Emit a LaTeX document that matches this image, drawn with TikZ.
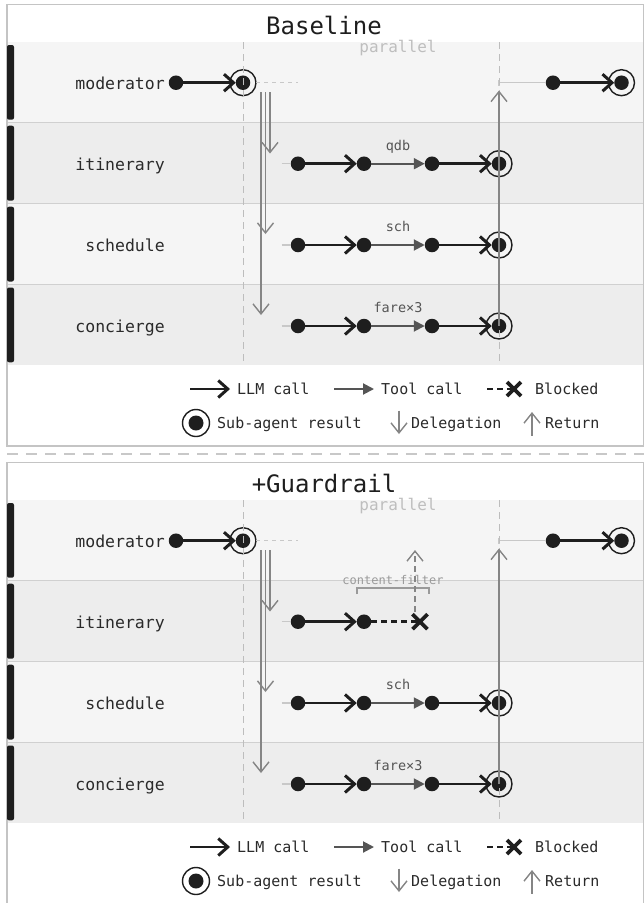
\documentclass[tikz,border=0pt]{standalone}
\usepackage{fontspec}
\setmainfont{DejaVu Sans Mono}
\usetikzlibrary{arrows.meta}
\definecolor{rowA}{HTML}{F5F5F5}
\definecolor{rowB}{HTML}{EDEDED}
\definecolor{sepc}{HTML}{D0D0D0}
\definecolor{framec}{HTML}{C4C4C4}
\definecolor{ink}{HTML}{1E1E1E}
\definecolor{toolc}{HTML}{555555}
\definecolor{delc}{HTML}{858585}
\definecolor{vdash}{HTML}{BDBDBD}
\definecolor{faint}{HTML}{C8C8C8}
\definecolor{labc}{HTML}{2A2A2A}
\definecolor{smallc}{HTML}{555555}
\definecolor{parc}{HTML}{BEBEBE}
\definecolor{brc}{HTML}{9A9A9A}

\tikzset{
  dotn/.style={circle, fill=ink, minimum size=14.5pt, inner sep=0pt, outer sep=0pt},
  ringn/.style={circle, draw=ink, line width=1.4pt, minimum size=26pt, inner sep=0pt, outer sep=0pt},
  llm/.style={draw=ink, line width=2.6pt, -{Straight Barb[length=9.5pt 0,width=17pt 0,line width=3pt]}},
  toolcall/.style={draw=toolc, line width=2pt, -{Triangle[length=11pt 0,width=11pt 0]}},
  deleg/.style={draw=delc, line width=1.8pt, -{Straight Barb[length=10pt 0,width=16pt 0,line width=1.4pt]}},
  blockline/.style={draw=ink, line width=2.6pt, dash pattern=on 6pt off 4pt},
  xmark/.style={draw=ink, line width=3.6pt},
  stub/.style={draw=faint, line width=1.5pt},
  lanelabel/.style={anchor=base east, inner sep=0pt, font=\fontsize{16.5}{18}\selectfont, text=labc},
  titletext/.style={anchor=base, inner sep=0pt, font=\fontsize{24}{26}\selectfont, text=ink},
  smalllab/.style={anchor=base, inner sep=0pt, font=\fontsize{13.5}{14}\selectfont, text=smallc},
  legtext/.style={anchor=base west, inner sep=0pt, font=\fontsize{15}{16}\selectfont, text=labc},
  vdashline/.style={draw=vdash, line width=1pt, dash pattern=on 7pt off 5pt},
  leftbar/.style={fill=ink, rounded corners=2pt},
}

% common parts of one panel: #1 prefix, #2 title
\newcommand\lanepanel[2]{%
  \fill[white] (7,4.5) rectangle (643.5,446);
  \fill[rowA] (7,42) rectangle (643.5,122.7);
  \fill[rowB] (7,122.7) rectangle (643.5,203.7);
  \fill[rowA] (7,203.7) rectangle (643.5,284.5);
  \fill[rowB] (7,284.5) rectangle (643.5,365.3);
  \draw[sepc,line width=1.2pt] (7,122.7) -- (643.5,122.7) (7,203.7) -- (643.5,203.7) (7,284.5) -- (643.5,284.5);
  \draw[framec,line width=1.2pt] (7,4.5) rectangle (643.5,446);
  \foreach \t/\b in {45/119.7, 125.7/200.7, 206.7/281.5, 287.5/362.3}
    \fill[leftbar] (7,\t) rectangle (14,\b);
  \node[titletext] (#1title) at (324,34) {#2};
  \node[lanelabel] (#1lm) at (165,89) {moderator};
  \node[lanelabel] (#1li) at (165,170) {itinerary};
  \node[lanelabel] (#1ls) at (165,251.5) {schedule};
  \node[lanelabel] (#1lc) at (165,332.5) {concierge};
  \node[anchor=base, inner sep=0pt, font=\fontsize{16}{17}\selectfont, text=parc] (#1par) at (398,52) {parallel};
  % moderator lane
  \node[dotn] (#1m0) at (176,82.7) {};
  \node[dotn] (#1m1) at (243,82.7) {};
  \node[ringn] (#1m1r) at (243,82.7) {};
  \draw[llm] (#1m0) -- (#1m1);
  \coordinate (#1pl) at (298,82.7);
  \draw[faint, line width=1pt, dash pattern=on 4pt off 4pt] (#1m1r) -- (#1pl);
  \coordinate (#1pr) at (499,82.7);
  \node[dotn] (#1m2) at (553,82.7) {};
  \node[dotn] (#1m3) at (621.5,82.7) {};
  \node[ringn] (#1m3r) at (621.5,82.7) {};
  \draw[stub, line width=1.2pt] ([yshift=2.8pt]#1pr) -- ([yshift=-2.8pt]#1pr);
  \draw[stub, line width=1.2pt] (#1pr) -- (#1m2);
  \draw[llm] (#1m2) -- (#1m3);
  % delegation
  \coordinate (#1d1s) at (270,92); \coordinate (#1d1e) at (270,153.5);
  \coordinate (#1d2s) at (265.5,92); \coordinate (#1d2e) at (265.5,234);
  \coordinate (#1d3s) at (261,92); \coordinate (#1d3e) at (261,315);
  \draw[deleg] (#1d1s) -- (#1d1e);
  \draw[deleg] (#1d2s) -- (#1d2e);
  \draw[deleg] (#1d3s) -- (#1d3e);
  % legend
  \coordinate (#1k1a) at (190,389); \coordinate (#1k1b) at (230,389);
  \draw[llm] (#1k1a) -- (#1k1b);
  \node[legtext] (#1t1) at (237,394.5) {LLM call};
  \coordinate (#1k2a) at (334,389); \coordinate (#1k2b) at (374,389);
  \draw[toolcall] (#1k2a) -- (#1k2b);
  \node[legtext] (#1t2) at (381,394.5) {Tool call};
  \coordinate (#1k3a) at (487,389); \coordinate (#1k3x) at (514,389);
  \draw[blockline] (#1k3a) -- (#1k3x);
  \draw[xmark] ([shift={(-7,-7)}]#1k3x) -- ([shift={(7,7)}]#1k3x)
               ([shift={(-7,7)}]#1k3x) -- ([shift={(7,-7)}]#1k3x);
  \node[legtext] (#1t3) at (535,394.5) {Blocked};
  \node[dotn, minimum size=15pt] (#1k4) at (196,423) {};
  \node[ringn, minimum size=27pt] (#1k4r) at (196,423) {};
  \node[legtext] (#1t4) at (217,428.5) {Sub-agent result};
  \coordinate (#1k5a) at (399,410.5); \coordinate (#1k5b) at (399,434);
  \draw[deleg, line width=1.5pt] (#1k5a) -- (#1k5b);
  \node[legtext] (#1t5) at (411,428.5) {Delegation};
  \coordinate (#1k6a) at (532,435.5); \coordinate (#1k6b) at (532,412);
  \draw[deleg, line width=1.5pt] (#1k6a) -- (#1k6b);
  \node[legtext] (#1t6) at (545,428.5) {Return};
}

% one sub-agent lane: #1 prefix, #2 centre y, #3 tool label
\newcommand\subrow[3]{%
  \coordinate (#1s) at (281.5,#2);
  \node[dotn] (#1a) at (298,#2) {};
  \node[dotn] (#1b) at (364,#2) {};
  \node[dotn] (#1c) at (432,#2) {};
  \node[dotn] (#1d) at (499,#2) {};
  \node[ringn] (#1r) at (499,#2) {};
  \draw[stub] (#1s) -- (#1a);
  \draw[llm] (#1a) -- (#1b);
  \draw[toolcall] (#1b) -- (#1c);
  \node[smalllab] (#1t) at (398,#2-13.5) {#3};
  \draw[llm] (#1c) -- (#1d);
}

% dashed guides and return arrow: #1 prefix, #2 node the return starts from
\newcommand\guides[2]{%
  \coordinate (#1v1t) at (243,42); \coordinate (#1v1b) at (243,365.3);
  \coordinate (#1v2t) at (499,42); \coordinate (#1v2b) at (499,365.3);
  \draw[vdashline] (#1v1t) -- (#1v1b);
  \draw[vdashline] (#1v2t) -- (#1v2b);
  \coordinate (#1ret) at (499,90.5);
  \draw[deleg] (#2.center) -- (#1ret);
}

\begin{document}
\begin{tikzpicture}[x=1pt,y=-1pt]
\useasboundingbox (0,0) rectangle (644,903);
\fill[white] (0,0) rectangle (644,903);

% ---------- Baseline ----------
\begin{scope}
  \lanepanel{p}{Baseline}
  \subrow{pi}{163.7}{qdb}
  \subrow{ps}{245}{sch}
  \subrow{pc}{326}{fare×3}
  \guides{p}{pcd}
\end{scope}

\coordinate (sepL) at (7,454); \coordinate (sepR) at (644,454);
\draw[faint, line width=1.5pt, dash pattern=on 11pt off 8pt] (sepL) -- (sepR);

% ---------- +Guardrail ----------
\begin{scope}[yshift=-458pt]
  \lanepanel{q}{+Guardrail}
  % itinerary: blocked by content filter
  \coordinate (qis) at (281.5,163.7);
  \node[dotn] (qia) at (298,163.7) {};
  \node[dotn] (qib) at (364,163.7) {};
  \coordinate (qix) at (420,163.7);
  \draw[stub] (qis) -- (qia);
  \draw[llm] (qia) -- (qib);
  \draw[blockline] (qib) -- (qix);
  \draw[xmark] ([shift={(-7.5,-7.5)}]qix) -- ([shift={(7.5,7.5)}]qix)
               ([shift={(-7.5,7.5)}]qix) -- ([shift={(7.5,-7.5)}]qix);
  \node[anchor=base, inner sep=0pt, font=\fontsize{12}{13}\selectfont, text=brc] (qcf) at (393,126) {content-filter};
  \coordinate (qbr1) at (357,136); \coordinate (qbr2) at (429,136);
  \draw[brc, line width=1.2pt] (qbr1) -- ++(0,-6) -| (qbr2);
  \coordinate (qxu) at (415,154); \coordinate (qxt) at (415,92);
  \draw[deleg, dash pattern=on 6pt off 4pt] (qxu) -- (qxt);
  \subrow{qs}{245}{sch}
  \subrow{qc}{326}{fare×3}
  \guides{q}{qcd}
\end{scope}
\end{tikzpicture}
\end{document}
